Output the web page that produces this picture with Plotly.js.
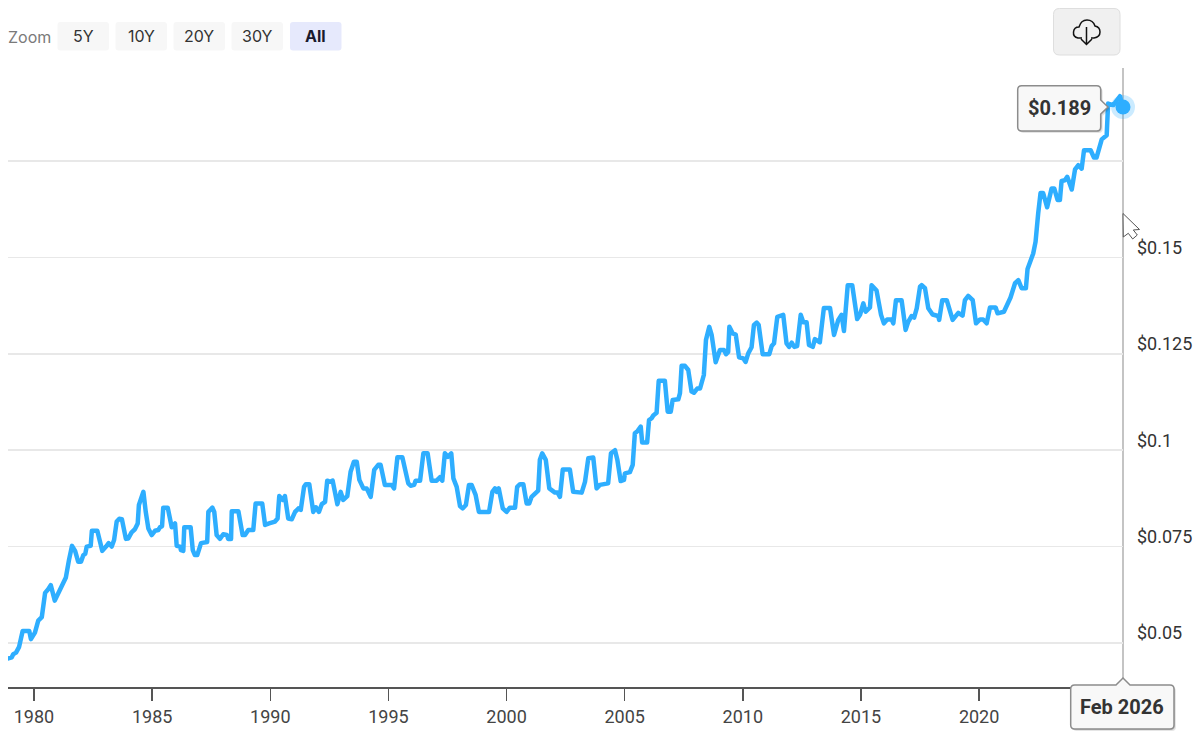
<!DOCTYPE html>
<html><head><meta charset="utf-8">
<script src="https://cdn.plot.ly/plotly-3.0.1.min.js"></script>
<style>html,body{margin:0;padding:0;background:#fff}#c{width:1200px;height:735px}.js-line{stroke-linejoin:round;stroke-linecap:round}</style>
</head><body><div id="c"></div>
<script>
const years=[1978.91,1979.06,1979.12,1979.24,1979.37,1979.44,1979.52,1979.80,1979.87,1980.04,1980.18,1980.33,1980.47,1980.61,1980.71,1980.88,1981.35,1981.48,1981.61,1981.74,1981.87,1981.99,1982.09,1982.17,1982.23,1982.40,1982.45,1982.68,1982.89,1983.05,1983.16,1983.29,1983.39,1983.50,1983.61,1983.72,1983.89,1983.99,1984.13,1984.27,1984.39,1984.44,1984.63,1984.73,1984.84,1984.98,1985.12,1985.26,1985.33,1985.42,1985.47,1985.66,1985.83,1985.97,1986.04,1986.18,1986.22,1986.32,1986.36,1986.63,1986.72,1986.81,1986.91,1987.07,1987.33,1987.38,1987.55,1987.63,1987.73,1987.87,1988.01,1988.16,1988.22,1988.34,1988.37,1988.65,1988.83,1988.93,1989.07,1989.28,1989.38,1989.66,1989.78,1989.95,1990.20,1990.31,1990.38,1990.53,1990.62,1990.76,1990.91,1991.05,1991.19,1991.29,1991.43,1991.51,1991.65,1991.82,1991.93,1992.06,1992.18,1992.32,1992.41,1992.53,1992.64,1992.84,1992.98,1993.09,1993.26,1993.40,1993.54,1993.66,1993.77,1993.94,1994.08,1994.25,1994.40,1994.57,1994.67,1994.85,1995.14,1995.24,1995.38,1995.59,1995.84,1995.94,1996.09,1996.15,1996.34,1996.48,1996.66,1996.83,1997.04,1997.18,1997.28,1997.39,1997.52,1997.66,1997.75,1997.89,1998.03,1998.14,1998.28,1998.41,1998.52,1998.69,1998.83,1999.26,1999.40,1999.51,1999.58,1999.67,1999.84,2000.00,2000.14,2000.36,2000.45,2000.57,2000.71,2000.85,2000.96,2001.06,2001.34,2001.41,2001.51,2001.66,2001.81,2002.05,2002.16,2002.26,2002.38,2002.68,2002.82,2003.18,2003.32,2003.46,2003.67,2003.81,2003.95,2004.30,2004.42,2004.59,2004.69,2004.83,2004.97,2005.01,2005.22,2005.34,2005.43,2005.55,2005.68,2005.74,2005.95,2006.03,2006.14,2006.21,2006.35,2006.44,2006.70,2006.82,2006.95,2007.03,2007.27,2007.34,2007.41,2007.55,2007.69,2007.83,2007.93,2008.07,2008.19,2008.35,2008.44,2008.58,2008.68,2008.85,2009.03,2009.20,2009.29,2009.38,2009.43,2009.57,2009.70,2009.84,2010.02,2010.12,2010.23,2010.37,2010.47,2010.59,2010.67,2010.84,2011.12,2011.22,2011.32,2011.46,2011.71,2011.85,2011.96,2012.07,2012.18,2012.30,2012.45,2012.56,2012.70,2012.80,2012.96,2013.05,2013.26,2013.43,2013.69,2013.86,2014.04,2014.18,2014.28,2014.44,2014.63,2014.84,2014.96,2015.10,2015.20,2015.38,2015.45,2015.66,2015.85,2015.97,2016.11,2016.30,2016.37,2016.48,2016.72,2016.89,2017.00,2017.14,2017.25,2017.36,2017.50,2017.57,2017.71,2017.85,2018.03,2018.27,2018.31,2018.44,2018.63,2018.88,2019.12,2019.30,2019.40,2019.54,2019.73,2019.87,2020.04,2020.17,2020.32,2020.46,2020.70,2020.78,2021.05,2021.33,2021.52,2021.66,2021.80,2021.98,2022.05,2022.29,2022.39,2022.50,2022.60,2022.71,2022.88,2023.07,2023.18,2023.32,2023.42,2023.49,2023.63,2023.73,2023.92,2024.06,2024.20,2024.34,2024.44,2024.72,2024.86,2024.97,2025.08,2025.19,2025.40,2025.46,2025.68,2025.96,2026.09];
const prices=[0.0460,0.0463,0.0471,0.0475,0.0490,0.0516,0.0531,0.0531,0.0510,0.0527,0.0558,0.0567,0.0630,0.0640,0.0650,0.0610,0.0670,0.0715,0.0752,0.0739,0.0711,0.0711,0.0728,0.0731,0.0750,0.0752,0.0791,0.0791,0.0739,0.0750,0.0759,0.0750,0.0767,0.0815,0.0822,0.0821,0.0770,0.0771,0.0787,0.0795,0.0810,0.0858,0.0892,0.0840,0.0797,0.0780,0.0791,0.0793,0.0800,0.0803,0.0851,0.0851,0.0800,0.0810,0.0752,0.0750,0.0741,0.0739,0.0800,0.0800,0.0741,0.0728,0.0728,0.0759,0.0762,0.0840,0.0851,0.0840,0.0780,0.0770,0.0782,0.0780,0.0770,0.0770,0.0842,0.0842,0.0780,0.0780,0.0793,0.0793,0.0862,0.0862,0.0806,0.0810,0.0815,0.0823,0.0881,0.0871,0.0881,0.0823,0.0821,0.0840,0.0849,0.0845,0.0905,0.0912,0.0912,0.0840,0.0852,0.0840,0.0860,0.0866,0.0921,0.0918,0.0921,0.0860,0.0892,0.0871,0.0881,0.0944,0.0970,0.0970,0.0923,0.0901,0.0901,0.0879,0.0949,0.0962,0.0962,0.0910,0.0910,0.0901,0.0982,0.0982,0.0914,0.0908,0.0910,0.0921,0.0921,0.0992,0.0992,0.0921,0.0921,0.0930,0.0921,0.0992,0.0983,0.0992,0.0927,0.0905,0.0855,0.0849,0.0858,0.0910,0.0910,0.0884,0.0840,0.0840,0.0892,0.0901,0.0892,0.0901,0.0849,0.0840,0.0851,0.0851,0.0905,0.0912,0.0912,0.0862,0.0862,0.0879,0.0895,0.0975,0.0992,0.0975,0.0901,0.0890,0.0890,0.0879,0.0950,0.0950,0.0892,0.0890,0.0918,0.0979,0.0981,0.0901,0.0910,0.0914,0.0992,0.1000,0.0975,0.0920,0.0923,0.0940,0.0943,0.0962,0.1044,0.1050,0.1061,0.1020,0.1020,0.1078,0.1083,0.1090,0.1097,0.1180,0.1180,0.1100,0.1100,0.1130,0.1132,0.1148,0.1219,0.1219,0.1208,0.1152,0.1149,0.1160,0.1160,0.1195,0.1286,0.1320,0.1299,0.1228,0.1260,0.1260,0.1249,0.1255,0.1320,0.1303,0.1300,0.1241,0.1238,0.1229,0.1251,0.1267,0.1325,0.1331,0.1325,0.1249,0.1249,0.1270,0.1277,0.1346,0.1351,0.1277,0.1268,0.1279,0.1268,0.1270,0.1351,0.1332,0.1332,0.1273,0.1268,0.1288,0.1280,0.1369,0.1369,0.1299,0.1338,0.1351,0.1309,0.1428,0.1428,0.1340,0.1351,0.1381,0.1359,0.1370,0.1428,0.1414,0.1351,0.1329,0.1339,0.1339,0.1329,0.1389,0.1389,0.1312,0.1333,0.1348,0.1344,0.1368,0.1424,0.1428,0.1420,0.1368,0.1352,0.1348,0.1338,0.1389,0.1389,0.1338,0.1356,0.1349,0.1389,0.1400,0.1389,0.1329,0.1339,0.1339,0.1329,0.1370,0.1370,0.1355,0.1359,0.1396,0.1433,0.1441,0.1420,0.1420,0.1470,0.1510,0.1541,0.1614,0.1667,0.1667,0.1630,0.1679,0.1679,0.1649,0.1649,0.1698,0.1700,0.1709,0.1676,0.1728,0.1739,0.1730,0.1778,0.1778,0.1759,0.1759,0.1787,0.1806,0.1817,0.1899,0.1895,0.1918,0.1890];
const xTicks=[1980,1985,1990,1995,2000,2005,2010,2015,2020];
const yTicks=[0.05,0.075,0.1,0.125,0.15,0.175];
const yLabels=['$0.05','$0.075','$0.1','$0.125','$0.15',''];
const zoomButtons=['5Y','10Y','20Y','30Y','All'];
const lastPrice='$0.189';
const lastDate='Feb 2026';

const W=1200,H=735,L=8,R=1123,T=68,B=687;
const px=x=>(x-L)/(R-L), py=y=>(B-y)/(B-T);
const P=(x,y)=>px(x).toFixed(5)+','+py(y).toFixed(5);
function rrect(x0,y0,x1,y1,r){return `M${P(x0+r,y0)}L${P(x1-r,y0)}Q${P(x1,y0)} ${P(x1,y0+r)}L${P(x1,y1-r)}Q${P(x1,y1)} ${P(x1-r,y1)}L${P(x0+r,y1)}Q${P(x0,y1)} ${P(x0,y1-r)}L${P(x0,y0+r)}Q${P(x0,y0)} ${P(x0+r,y0)}Z`;}
function shape(path,fill,lineColor,lw){return {type:'path',xref:'paper',yref:'paper',layer:'above',path,fillcolor:fill,line:{color:lineColor||'rgba(0,0,0,0)',width:lw||0}};}
function note(x,y,text,size,color,bold,family){return {xref:'paper',yref:'paper',x:px(x),y:py(y),xanchor:'center',yanchor:'middle',showarrow:false,text:bold?'<b>'+text+'</b>':text,font:{family:family||'Roboto',size,color}};}

const shapes=[],annotations=[];
// vertical crosshair
shapes.push({type:'line',xref:'paper',yref:'paper',layer:'below',x0:px(1123),x1:px(1123),y0:py(680),y1:py(68),line:{color:'#c4c4c4',width:2}});
annotations.push(note(29.5,37,'Zoom',16,'#7a7a7a',false,'Inter'));
const btnX=[57.5,115.5,173.5,231.5,290];
zoomButtons.forEach((t,i)=>{
  const all=t==='All';
  shapes.push(shape(rrect(btnX[i],22,btnX[i]+51.5,50.5,3),all?'#e6e9fc':'#f7f7f7'));
  annotations.push(note(btnX[i]+25.7,36.5,t,16,all?'#1a1a2e':'#333',all,'Inter'));
});
// download button
shapes.push(shape(rrect(1053.5,8.5,1120,55,6),'#f0f0f0','#dedede',1));
const cloud=`M${P(1082,38)}L${P(1078,38)}Q${P(1073,37)} ${P(1073.5,32)}Q${P(1074,27)} ${P(1079,27)}Q${P(1081,20)} ${P(1087,20)}Q${P(1093,20)} ${P(1095,26)}Q${P(1100,27)} ${P(1100,32)}Q${P(1100,37)} ${P(1094,38)}L${P(1091,38)}`;
shapes.push({type:'path',xref:'paper',yref:'paper',layer:'above',path:cloud,line:{color:'#111',width:1.5}});
shapes.push({type:'path',xref:'paper',yref:'paper',layer:'above',path:`M${P(1086.5,27)}L${P(1086.5,44.5)}M${P(1081,39)}L${P(1086.5,44.5)}L${P(1092,39)}`,line:{color:'#111',width:1.5}});
// tooltip helpers
function tip1(d){const x0=1017.7+d,x1=1100.7+d,y0=85.7+d,y1=131+d,r=4;
 return `M${P(x0+r,y0)}L${P(x1-r,y0)}Q${P(x1,y0)} ${P(x1,y0+r)}L${P(x1,100+d)}L${P(1108+d,107+d)}L${P(x1,114+d)}L${P(x1,y1-r)}Q${P(x1,y1)} ${P(x1-r,y1)}L${P(x0+r,y1)}Q${P(x0,y1)} ${P(x0,y1-r)}L${P(x0,y0+r)}Q${P(x0,y0)} ${P(x0+r,y0)}Z`;}
function tip2(d){const x0=1070.7+d,x1=1174+d,y0=685+d,y1=729+d,r=4;
 return `M${P(x0+r,y0)}L${P(1116+d,y0)}L${P(1123+d,678+d)}L${P(1130+d,y0)}L${P(x1-r,y0)}Q${P(x1,y0)} ${P(x1,y0+r)}L${P(x1,y1-r)}Q${P(x1,y1)} ${P(x1-r,y1)}L${P(x0+r,y1)}Q${P(x0,y1)} ${P(x0,y1-r)}L${P(x0,y0+r)}Q${P(x0,y0)} ${P(x0+r,y0)}Z`;}
[tip1,tip2].forEach(f=>{
  shapes.push(shape(f(2),'rgba(0,0,0,0.10)'));
  shapes.push(shape(f(1),'rgba(0,0,0,0.12)'));
  shapes.push(shape(f(0),'#f8f8f8','#8c8c8c',1.5));
});
annotations.push(note(1059,108,lastPrice,20,'#333',true));
annotations.push(note(1122,707,lastDate,20,'#333',true));
// cursor
shapes.push(shape(`M${P(1123,213.5)}L${P(1139.5,229.5)}L${P(1133.3,230)}L${P(1137.3,235)}L${P(1132.7,239)}L${P(1128.3,233.3)}L${P(1123.3,237)}Z`,'#ffffff','#555',1));

const data=[
 {x:years,y:prices,type:'scatter',mode:'lines',line:{color:'#2eaeff',width:4.5,shape:'linear'},cliponaxis:false,hoverinfo:'skip'},
 {x:[years[years.length-1]],y:[prices[prices.length-1]],type:'scatter',mode:'markers',marker:{size:24,color:'rgba(46,174,255,0.25)'},cliponaxis:false,hoverinfo:'skip'},
 {x:[years[years.length-1]],y:[prices[prices.length-1]],type:'scatter',mode:'markers',marker:{size:15,color:'#2eaeff'},cliponaxis:false,hoverinfo:'skip'}
];
const layout={
 width:W,height:H,margin:{l:L,r:W-R,t:T,b:H-B,pad:0},
 paper_bgcolor:'#fff',plot_bgcolor:'#fff',showlegend:false,
 xaxis:{range:[1978.9,2026.09],tickmode:'array',tickvals:xTicks,ticktext:xTicks.map(String),showgrid:false,zeroline:false,showline:true,linecolor:'#555',linewidth:1.5,ticks:'outside',ticklen:12,tickwidth:1.5,tickcolor:'#555',tickfont:{family:'Roboto',size:18,color:'#444'},ticklabelstandoff:1},
 yaxis:{side:'right',range:[0.03859,0.19912],tickmode:'array',tickvals:yTicks,ticktext:yLabels,showgrid:true,gridcolor:'#e8e8e8',gridwidth:1.5,zeroline:false,showline:false,ticks:'',tickfont:{family:'Roboto',size:18,color:'#333'},ticklabelshift:-10,ticklabelstandoff:13},
 shapes,annotations
};
Plotly.newPlot('c',data,layout,{displayModeBar:false,staticPlot:true});
</script></body></html>
